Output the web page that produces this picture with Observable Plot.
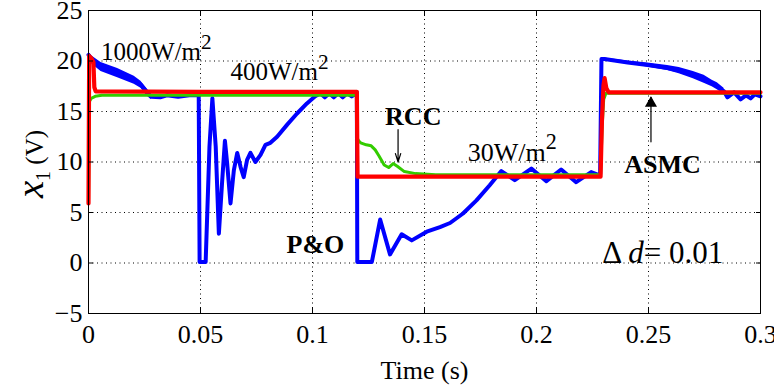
<!DOCTYPE html>
<html>
<head>
<meta charset="utf-8">
<script src="https://cdn.jsdelivr.net/npm/d3@7"></script>
<script src="https://cdn.jsdelivr.net/npm/@observablehq/plot@0.6"></script>
<style>
  html, body { margin: 0; padding: 0; background: #fff; }
  #chart svg { display: block; }
  #chart svg text { font-family: "Liberation Serif", "Times New Roman", Times, serif; font-variant: normal; }
</style>
</head>
<body>
<div id="chart"></div>
<script>
// Axis ticks
const timeTicks = [0, 0.05, 0.1, 0.15, 0.2, 0.25, 0.3];
const timeTickLabels = ["0", "0.05", "0.1", "0.15", "0.2", "0.25", "0.3"];
const voltTicks = [-5, 0, 5, 10, 15, 20, 25];
const voltTickLabels = ["\u22125", "0", "5", "10", "15", "20", "25"];

// ASMC controller (red): PV voltage x1 over time
const asmcT = [0, 0.0003, 0.0012, 0.0022, 0.0026, 0.0032, 0.05, 0.1198, 0.1201, 0.1206, 0.2286, 0.2292, 0.2299, 0.2304, 0.2312, 0.2322, 0.3];
const asmcV = [5.9, 20.5, 20.3, 19.9, 17.4, 17.0, 16.95, 16.95, 8.55, 8.55, 8.55, 14.0, 17.6, 18.3, 17.3, 16.9, 16.9];

// RCC controller (green)
const rccT = [0, 0.0004, 0.0012, 0.0030, 0.0060, 0.05, 0.1198, 0.1201, 0.1206, 0.1215, 0.1240, 0.1262, 0.1280, 0.1297, 0.1320, 0.1340, 0.1360, 0.1380, 0.1410, 0.1460, 0.1550, 0.2286, 0.2293, 0.2300, 0.2310, 0.3];
const rccV = [6.0, 16.0, 16.3, 16.5, 16.6, 16.6, 16.6, 12.3, 12.1, 11.9, 11.7, 11.6, 11.2, 10.6, 9.7, 9.45, 9.85, 9.55, 9.05, 8.85, 8.75, 8.75, 13.5, 16.2, 16.8, 16.8];

// P&O controller (blue)
const poT = [0, 0.0015, 0.0056, 0.0130, 0.0204, 0.0234, 0.0263, 0.0280, 0.0320, 0.0350, 0.0400, 0.0450, 0.0488,
  0.0492, 0.0496, 0.0523, 0.0540, 0.0553, 0.0568, 0.0582, 0.0597, 0.0609, 0.0619, 0.0634, 0.0649, 0.0664, 0.0679,
  0.0693, 0.0708, 0.0723, 0.0745, 0.0768, 0.0790, 0.0812, 0.0842, 0.0887, 0.0931, 0.0975, 0.1012, 0.1035, 0.1055,
  0.1075, 0.1095, 0.1115, 0.1135, 0.1155, 0.1175, 0.1193, 0.1198, 0.1200, 0.1265, 0.1302, 0.1346, 0.1398, 0.1443,
  0.1510, 0.1569, 0.1614, 0.1672, 0.1732, 0.1791, 0.1843, 0.1903, 0.1977, 0.2044, 0.2110, 0.2177, 0.2244, 0.2273,
  0.2284, 0.2290, 0.2303, 0.2407, 0.2496, 0.2585, 0.2637, 0.2700, 0.2748, 0.2784, 0.2807, 0.2837, 0.2852, 0.2882,
  0.2911, 0.2935, 0.2956, 0.2975, 0.3];
const poV = [20.6, 20.1, 19.4, 18.8, 18.1, 17.65, 16.85, 16.45, 16.4, 16.6, 16.45, 16.6, 16.6,
  16.8, 0.1, 0.1, 11.5, 16.3, 11.5, 2.9, 8.2, 12.1, 9.85, 5.9, 9.2, 10.9, 9.5,
  8.5, 10.2, 10.9, 10.0, 10.7, 11.7, 11.9, 12.5, 13.7, 14.8, 15.8, 16.5, 16.8, 16.4,
  16.8, 16.4, 16.8, 16.4, 16.8, 16.5, 16.8, 16.9, 0.1, 0.1, 4.3, 0.85, 2.84, 2.24,
  3.1, 3.56, 3.96, 4.9, 6.2, 7.7, 9.1, 8.2, 9.35, 8.1, 9.26, 8.0, 9.0, 8.75,
  8.8, 20.2, 20.2, 19.85, 19.6, 19.3, 19.05, 18.6, 18.2, 17.8, 17.5, 17.0, 16.4, 16.9,
  16.2, 16.6, 16.3, 16.7, 16.5];

// P&O ripple envelope where the blue trace is a wide band
const poBandSeg = [1, 1, 1, 1, 1, 1, 1, 1, 2, 2, 2, 2, 2, 2, 2, 2, 2, 2];
const poBandT = [0, 0.0015, 0.0056, 0.0130, 0.0204, 0.0234, 0.0263, 0.0280,
  0.2303, 0.2407, 0.2496, 0.2585, 0.2637, 0.2700, 0.2748, 0.2784, 0.2807, 0.2837];
const poBandLo = [20.3, 19.7, 18.95, 18.35, 17.7, 17.3, 16.5, 16.2,
  20.1, 19.7, 19.4, 19.05, 18.75, 18.25, 17.8, 17.45, 17.15, 16.7];
const poBandHi = [20.9, 20.5, 19.85, 19.25, 18.5, 18.0, 17.2, 16.7,
  20.3, 20.0, 19.8, 19.55, 19.35, 18.95, 18.6, 18.1, 17.85, 17.3];

// Irradiance and step-size annotations
const noteText = ["1000W/m^2", "400W/m^2", "30W/m^2", "\u0394 *d*= 0.01"];
const noteT = [0.0056, 0.0634, 0.1693, 0.2294];
const noteV = [20.9, 18.9, 10.95, 0.95];
const noteSize = [25, 25, 26, 31];

// Method labels
const methodText = ["RCC", "P&O", "ASMC"];
const methodT = [0.1324, 0.0884, 0.2392];
const methodV = [14.45, 1.8, 9.7];

// Pointer arrows: RCC (downwards, open head) and ASMC (upwards, solid head)
const arrowT = [0.1382, 0.2511];
const arrowFrom = [13.2, 12.0];
const arrowTo = [10.0, 16.4];
const arrowSolid = [false, true];

const zipTV = (T, V) => T.map((t, i) => ({t, v: V[i]}));
const asmc = zipTV(asmcT, asmcV);
const rcc = zipTV(rccT, rccV);
const po = zipTV(poT, poV);
const poBand = poBandT.map((t, i) => ({t, lo: poBandLo[i], hi: poBandHi[i], seg: poBandSeg[i]}));
const notes = noteText.map((s, i) => ({s, t: noteT[i], v: noteV[i], size: noteSize[i]}));
const methods = methodText.map((s, i) => ({s, t: methodT[i], v: methodV[i]}));
const arrows = arrowT.map((t, i) => ({t, y1: arrowFrom[i], y2: arrowTo[i], solid: arrowSolid[i]}));

const serif = '"Liberation Serif", "Times New Roman", Times, serif';
const dotted = {stroke: "black", strokeOpacity: 1, strokeWidth: 1, strokeDasharray: "1,3.5"};
const noText = () => "";
const Y_LABEL = "*x*_1 (V)";

const chart = Plot.plot({
  width: 774,
  height: 392,
  marginLeft: 88,
  marginRight: 14,
  marginTop: 10,
  marginBottom: 79,
  style: {fontFamily: serif, fontSize: "26px", color: "black", background: "white", overflow: "visible"},
  x: {domain: [0, 0.3], label: null},
  y: {domain: [-5, 25], label: null},
  marks: [
    Plot.gridX(timeTicks, dotted),
    Plot.gridY(voltTicks, dotted),
    Plot.areaY(poBand, {x: "t", y1: "lo", y2: "hi", z: "seg", fill: "#0000ff"}),
    Plot.line(po, {x: "t", y: "v", stroke: "#0000ff", strokeWidth: 4}),
    Plot.line(rcc, {x: "t", y: "v", stroke: "#33cc00", strokeWidth: 3}),
    Plot.line(asmc, {x: "t", y: "v", stroke: "#ff0000", strokeWidth: 4.2}),
    Plot.frame({stroke: "black", strokeWidth: 1}),
    Plot.axisX(timeTicks, {anchor: "bottom", tickSize: -5, tickFormat: noText}),
    Plot.axisX(timeTicks, {anchor: "top", tickSize: -5, tickFormat: noText}),
    Plot.axisY(voltTicks, {anchor: "left", tickSize: -5, tickFormat: noText}),
    Plot.axisY(voltTicks, {anchor: "right", tickSize: -5, tickFormat: noText}),
    Plot.axisX(timeTicks, {anchor: "bottom", tickSize: 0, tickPadding: 11, fontSize: 26, fontFamily: serif,
      tickFormat: d => timeTickLabels[timeTicks.indexOf(d)]}),
    Plot.axisY(voltTicks, {anchor: "left", tickSize: 0, tickPadding: 6, fontSize: 26, fontFamily: serif,
      tickFormat: d => voltTickLabels[voltTicks.indexOf(d)]}),
    Plot.text(["Time (s)"], {frameAnchor: "bottom", dy: 57, fontSize: 26, fontFamily: serif, lineAnchor: "middle"}),
    Plot.text([Y_LABEL], {frameAnchor: "left", dx: -56, rotate: -90, fontSize: 25, fontFamily: serif, lineAnchor: "middle"}),
    Plot.arrow(arrows, {x1: "t", x2: "t", y1: "y1", y2: "y2", stroke: "black", strokeWidth: 1.2, headLength: 11, headAngle: 35}),
    Plot.dot(arrows.filter(d => d.solid), {x: "t", y: "y2", symbol: "triangle", r: 4.5, fill: "black", stroke: "none", dy: 6}),
    Plot.text(notes, {x: "t", y: "v", text: "s", fontSize: "size", fontFamily: serif, textAnchor: "start", lineAnchor: "middle"}),
    Plot.text(methods, {x: "t", y: "v", text: "s", fontSize: 26, fontFamily: serif, fontWeight: "bold", textAnchor: "start", lineAnchor: "middle"})
  ]
});

document.getElementById("chart").appendChild(chart);

// Rich text: *italic*, ^superscript, _subscript
const SVGNS = "http://www.w3.org/2000/svg";
function richify(el, italicScale) {
  const src = el.textContent;
  if (!/[\^_*]/.test(src)) return;
  const parts = [];
  let buf = "", italic = false;
  const flush = () => { if (buf) parts.push({t: buf, kind: "n", italic}); buf = ""; };
  for (let i = 0; i < src.length; i++) {
    const c = src[i];
    if (c === "*") { flush(); italic = !italic; }
    else if (c === "^" || c === "_") { flush(); parts.push({t: src[i + 1], kind: c === "^" ? "sup" : "sub", italic}); i++; }
    else buf += c;
  }
  flush();
  const size = parseFloat(getComputedStyle(el).fontSize);
  while (el.firstChild) el.removeChild(el.firstChild);
  let offset = 0;
  for (const p of parts) {
    const ts = document.createElementNS(SVGNS, "tspan");
    ts.textContent = p.t;
    ts.setAttribute("font-family", serif);
    let target = 0;
    if (p.kind === "sup") { target = -0.44 * size; ts.setAttribute("font-size", (0.85 * size) + "px"); }
    if (p.kind === "sub") { target = 0.3 * size; ts.setAttribute("font-size", (0.8 * size) + "px"); }
    if (p.italic) {
      ts.setAttribute("font-style", "italic");
      if (p.kind === "n" && italicScale !== 1) ts.setAttribute("font-size", (italicScale * size) + "px");
    }
    if (target !== offset) { ts.setAttribute("dy", (target - offset) + "px"); offset = target; }
    el.appendChild(ts);
  }
}
let yLabelEl = null;
chart.querySelectorAll("text").forEach(el => {
  const isY = el.textContent === Y_LABEL;
  richify(el, isY ? 1.55 : 1);
  if (isY) yLabelEl = el;
});
chart.querySelectorAll("text").forEach(el => el.setAttribute("font-family", serif));

// Centre the rotated voltage label beside the frame, halfway down the plot area
if (yLabelEl) {
  const svgBox = chart.getBoundingClientRect();
  const box = yLabelEl.getBoundingClientRect();
  const cx = box.left + box.width / 2 - svgBox.left;
  const cy = box.top + box.height / 2 - svgBox.top;
  const frameMidY = (10 + (392 - 79)) / 2 + 3;
  const targetX = 31;
  const prev = yLabelEl.getAttribute("transform") || "";
  yLabelEl.setAttribute("transform", `translate(${targetX - cx},${frameMidY - cy}) ${prev}`);
}
</script>
</body>
</html>
